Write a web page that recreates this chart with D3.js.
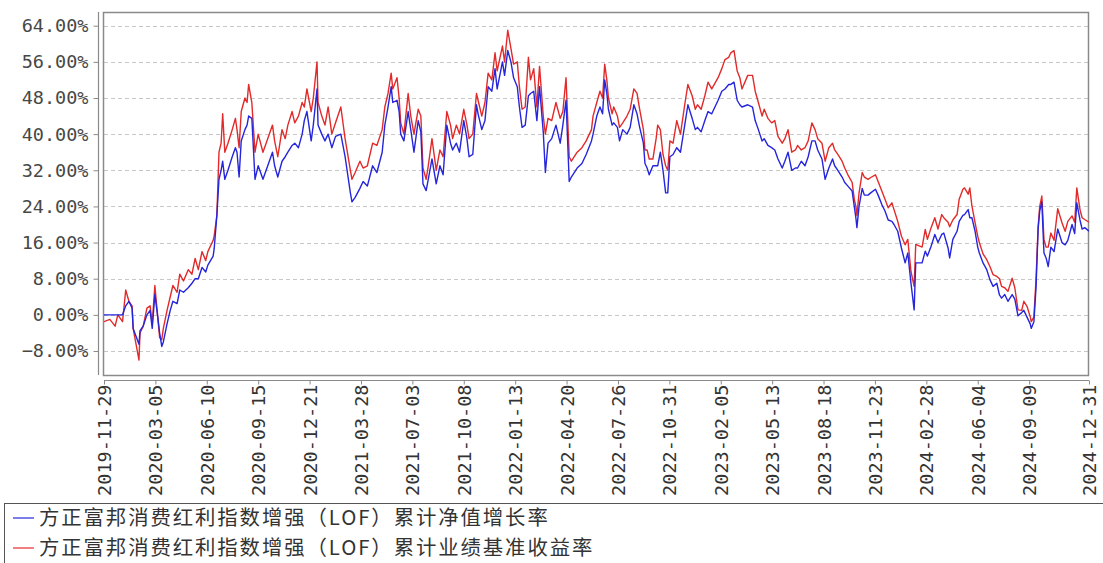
<!DOCTYPE html>
<html>
<head>
<meta charset="utf-8">
<script src="https://cdn.jsdelivr.net/npm/d3@7/dist/d3.min.js"></script>
<style>
  html, body { margin: 0; padding: 0; background: #fff; }
  svg { display: block; }
</style>
</head>
<body>
<svg id="chart" width="1103" height="563"></svg>
<script>
// ---------------- DATA ----------------
const dates = [
"2019-11-29","2019-12-10","2019-12-20","2019-12-25","2020-01-03","2020-01-09","2020-01-15","2020-01-21","2020-01-23","2020-02-03",
"2020-02-05","2020-02-11","2020-02-18","2020-02-24","2020-02-28","2020-03-04","2020-03-09","2020-03-13","2020-03-17","2020-03-20",
"2020-03-27","2020-04-02","2020-04-07","2020-04-15","2020-04-20","2020-04-27","2020-05-06","2020-05-13","2020-05-19","2020-05-25",
"2020-06-01","2020-06-08","2020-06-12","2020-06-22","2020-06-24","2020-06-29","2020-07-03","2020-07-07","2020-07-10","2020-07-14",
"2020-07-20","2020-07-28","2020-08-03","2020-08-06","2020-08-10","2020-08-14","2020-08-21","2020-08-25","2020-08-28","2020-09-03",
"2020-09-09","2020-09-15","2020-09-24","2020-09-30","2020-10-12","2020-10-16","2020-10-22","2020-10-30","2020-11-05","2020-11-10",
"2020-11-18","2020-11-23","2020-11-30","2020-12-07","2020-12-11","2020-12-16","2020-12-24","2020-12-28","2021-01-04","2021-01-06",
"2021-01-13","2021-01-19","2021-01-25","2021-02-01","2021-02-08","2021-02-18","2021-02-26","2021-03-08","2021-03-11","2021-03-17",
"2021-03-26","2021-04-01","2021-04-09","2021-04-19","2021-04-27","2021-05-07","2021-05-12","2021-05-18","2021-05-24","2021-05-27",
"2021-06-04","2021-06-08","2021-06-11","2021-06-17","2021-06-25","2021-06-30","2021-07-06","2021-07-14","2021-07-19","2021-07-23",
"2021-07-29","2021-08-02","2021-08-09","2021-08-17","2021-08-24","2021-08-30","2021-09-06","2021-09-13","2021-09-17","2021-09-24",
"2021-09-30","2021-10-08","2021-10-14","2021-10-18","2021-10-25","2021-11-01","2021-11-04","2021-11-11","2021-11-17","2021-11-23",
"2021-11-30","2021-12-06","2021-12-10","2021-12-20","2021-12-24","2021-12-30","2022-01-05","2022-01-10","2022-01-17","2022-01-21",
"2022-01-26","2022-02-01","2022-02-07","2022-02-11","2022-02-17","2022-02-23","2022-02-28","2022-03-07","2022-03-11","2022-03-16",
"2022-03-23","2022-03-31","2022-04-08","2022-04-13","2022-04-19","2022-04-25","2022-04-29","2022-05-10","2022-05-19","2022-05-27",
"2022-06-06","2022-06-09","2022-06-16","2022-06-22","2022-06-27","2022-07-01","2022-07-05","2022-07-08","2022-07-15","2022-07-18",
"2022-07-25","2022-07-29","2022-08-04","2022-08-12","2022-08-18","2022-08-25","2022-08-31","2022-09-05","2022-09-12","2022-09-15",
"2022-09-19","2022-09-23","2022-09-30","2022-10-06","2022-10-09","2022-10-14","2022-10-19","2022-10-24","2022-10-28","2022-11-01",
"2022-11-07","2022-11-14","2022-11-21","2022-11-29","2022-12-05","2022-12-13","2022-12-19","2022-12-23","2022-12-30","2023-01-06",
"2023-01-12","2023-01-19","2023-01-31","2023-02-07","2023-02-13","2023-02-20","2023-02-24","2023-03-02","2023-03-08","2023-03-13",
"2023-03-17","2023-03-28","2023-04-06","2023-04-11","2023-04-17","2023-04-24","2023-04-28","2023-05-05","2023-05-12","2023-05-18",
"2023-05-24","2023-06-01","2023-06-06","2023-06-12","2023-06-19","2023-06-26","2023-06-30","2023-07-07","2023-07-14","2023-07-20",
"2023-07-27","2023-08-02","2023-08-07","2023-08-15","2023-08-21","2023-08-28","2023-09-04","2023-09-08","2023-09-14","2023-09-22",
"2023-09-27","2023-10-03","2023-10-11","2023-10-15","2023-10-18","2023-10-20","2023-10-24","2023-10-30","2023-11-03","2023-11-10",
"2023-11-15","2023-11-24","2023-11-29","2023-12-06","2023-12-12","2023-12-18","2023-12-25","2023-12-29","2024-01-05","2024-01-12",
"2024-01-19","2024-01-24","2024-01-30","2024-02-05","2024-02-08","2024-02-20","2024-02-26","2024-03-01","2024-03-08","2024-03-15",
"2024-03-21","2024-03-28","2024-04-01","2024-04-09","2024-04-12","2024-04-18","2024-04-26","2024-04-30","2024-05-07","2024-05-10",
"2024-05-17","2024-05-20","2024-05-24","2024-05-30","2024-06-04","2024-06-07","2024-06-14","2024-06-21","2024-06-27","2024-07-03",
"2024-07-10","2024-07-15","2024-07-19","2024-07-25","2024-07-31","2024-08-08","2024-08-13","2024-08-19","2024-08-26","2024-08-30",
"2024-09-05","2024-09-11","2024-09-13","2024-09-18","2024-09-22","2024-09-26","2024-09-29","2024-10-03","2024-10-07","2024-10-11",
"2024-10-15","2024-10-20","2024-10-26","2024-11-02","2024-11-10","2024-11-16","2024-11-21","2024-11-29","2024-12-04","2024-12-08",
"2024-12-14","2024-12-18","2024-12-23","2024-12-31"
];

// 累计净值增长率 (%), blue
const navGrowth = [
0,0,0,0,0,2,3,1.5,-3,-6.5,
-3.5,-2.5,0,1,-3,4.5,0,-4,-7,-6,
-2,1,3,2.5,5.5,5,6,7,8,8,
10.5,9.5,11,13,14.7,22,30,32,34,30,
32,35,37,36,30.5,38.5,41,42,44,43.5,
30,33,30,32,36,33,30.5,34,35,36,
37.5,38,37,40,43,45,38.5,42,50,42,
40,38.5,40,37,39.5,40,35,27,25,26,
28,29.5,28.5,33,31.5,36,42,46,50.5,47,
47.5,45,40,38.5,45,41,36,43,40.5,29,
27.5,30,34.5,29,33,31,42,38,36.5,38,
36,43,39,35,35.5,46.5,44.5,41,43,50.5,
49.5,54.5,50,56,53,58.5,56,52.5,50.5,46,
41.5,42,48.5,49,49.5,43,50.5,40.5,31.5,38,
39,42,38,42,47.5,29.5,30.5,32.5,33.5,35.5,
38.5,40,44,46,44.5,52,49,45.5,42,42.5,
41.5,38.5,41,40,41.5,46.5,44.5,41.5,38,33.5,
32.5,31,33,33,33,36,32,27,27,35,
35.5,37,36,42,46.5,43.5,41,41.5,40.5,43,
45,44.5,47.5,49.5,50,51,51,51.5,47.5,46.5,
46,46.5,46,43,41,38.5,39,37.5,37,36.5,
34.5,32.5,34,36,32,32.5,32.5,34,33,35,
38.5,38.5,36.5,34.5,30,32.5,34.5,33,32,30.5,
29.3,28.5,27.4,24,21.5,19.3,24,28,26.5,26.5,
27,27.8,26.5,24.4,23,21,20.7,20,18.5,14.8,
11.5,13.7,7,1.1,11.5,11.5,14.1,13,15.2,17.8,
16,17.8,18.1,14.8,12.6,16.7,18.5,20.7,22,22.2,
23.3,21.5,21.5,18.5,15,13.7,11.5,10,7.8,6.3,
7,4.4,3.7,4.5,3,4.5,3.5,-0.2,0.5,1,
-0.5,-2,-3,-1.5,6,19,23,25,13.7,12.6,
10.7,15,14,19,16,15.5,16.5,20,18,24.8,
21,19,19.3,18.5
];

// 累计业绩基准收益率 (%), red
const benchReturn = [
-1.5,-1,-2.5,0,-1.5,5.5,3,2,-3,-10,
-4,-2.5,1.5,2,-2,6.5,0,-5,-5.5,-3,
1,4,6.5,5,9,7.5,10,9,12.5,10,
14,12,14,16.5,17.5,22,36,38,44.5,36,
38,41,43.5,41,37,45,48,47,51,47,
36,40,36,38,42,38.5,35,41,39,42,
45,42.5,44,47,46,50,45,48,56,47,
44,42,46,40,42.5,46,39,32,30,31.5,
34,32.5,33,38,37.5,41,46,49,53.5,50,
52.5,48,42.5,40,49,44,40,45.5,44,32.5,
30,33,39,32,36.5,35,45,42,39,42,
40,45.5,42,39,40,49,47.5,44,47,53.5,
52,58,54,59.5,56,63,59,55.5,56,50.5,
45.5,46,57,52,54.5,46,55,44,40,43.5,
43,47,43.5,45,52.5,35,34,36,37,38.5,
41,44,47,49.5,48,55.5,52,48,44.5,46,
44,41.5,42.5,44,45.5,50,49,45.5,41,36.5,
36.5,34.5,34.5,39,42,41,35.5,33,32,38.5,
38,43,40,46.5,51,48.5,45.5,46.5,45.5,48.5,
51.5,50,52.5,54.5,56.5,57,58,58.5,54,52.5,
50,53,53,49.5,47,44,45.5,43.5,42.5,43,
39.5,38,39,41,36,36.5,37.5,36.5,37,38.5,
42.5,41,39,38,34,37,38,36.5,35.5,34,
32.5,31,29.3,25.6,24,22,27,31.5,30.5,30,
30.4,31,29.5,27.4,25.6,23.7,24.8,23.3,20.7,17.4,
15.5,16.7,9.6,6.3,15.6,15,18.9,16.7,19.3,21.5,
19,22.2,21.5,20.5,19.5,21,22.2,25.6,27.8,28.1,
26.7,28.1,24.1,20.4,17.4,16,13.5,12.2,10.7,8.9,
8.5,8,6.3,6,5.2,8.1,6,1.1,1,3,
1.9,-0.4,-1.5,-0.5,7.8,19.6,24,26.3,16.7,15,
15,18.1,16.5,23.5,20.4,18.5,20.7,21.9,20.5,28.1,
23.3,21.5,21.1,20.5
];

const yTickValues = [-8, 0, 8, 16, 24, 32, 40, 48, 56, 64];
const xTickLabels = [
"2019-11-29","2020-03-05","2020-06-10","2020-09-15","2020-12-21","2021-03-28","2021-07-03",
"2021-10-08","2022-01-13","2022-04-20","2022-07-26","2022-10-31","2023-02-05","2023-05-13",
"2023-08-18","2023-11-23","2024-02-28","2024-06-04","2024-09-09","2024-12-31"
];
const seriesNames = [
"方正富邦消费红利指数增强（LOF）累计净值增长率",
"方正富邦消费红利指数增强（LOF）累计业绩基准收益率"
];
const seriesColors = ["#2525dc", "#e22a2a"];

// ---------------- CHART ----------------
const parse = d3.utcParse("%Y-%m-%d");
const svg = d3.select("#chart");
svg.append("rect").attr("width", 1103).attr("height", 563).attr("fill", "#fff");

const plot = { left: 104, right: 1089, top: 12, bottom: 375 };

const x = d3.scaleUtc()
  .domain([parse(xTickLabels[0]), parse(xTickLabels[xTickLabels.length - 1])])
  .range([plot.left, plot.right]);

const y = d3.scaleLinear().domain([-8, 64]).range([351, 25.7]);

// gridlines
svg.append("g").selectAll("line").data(yTickValues).join("line")
  .attr("x1", plot.left).attr("x2", plot.right)
  .attr("y1", d => Math.round(y(d)) + 0.5).attr("y2", d => Math.round(y(d)) + 0.5)
  .attr("stroke", "#c8c8c8").attr("stroke-width", 1).attr("stroke-dasharray", "4,3");

// frame
svg.append("rect")
  .attr("x", plot.left - 0.5).attr("y", plot.top + 0.5)
  .attr("width", plot.right - plot.left).attr("height", plot.bottom - plot.top)
  .attr("fill", "none").attr("stroke", "#8a8a8a").attr("stroke-width", 1.5);

// y axis (offset to the left)
const yAxis = d3.axisLeft(y).tickValues(yTickValues).tickSize(5).tickPadding(5)
  .tickFormat(d => d3.format(".2f")(d) + "%");
const gy = svg.append("g").attr("transform", "translate(98.5,0)").call(yAxis);
gy.select(".domain").attr("d", `M0,${plot.top}V${plot.bottom}`).attr("stroke", "#8a8a8a").attr("stroke-width", 1.2);
gy.selectAll(".tick line").attr("stroke", "#8a8a8a");
gy.selectAll(".tick text")
  .attr("font-family", "'DejaVu Sans Mono', monospace").attr("font-size", 18.5)
  .attr("fill", "#474747");

// x axis (offset below)
const xAxis = d3.axisBottom(x).tickValues(xTickLabels.map(parse)).tickSize(4)
  .tickFormat(d3.utcFormat("%Y-%m-%d"));
const gx = svg.append("g").attr("transform", "translate(0,380.5)").call(xAxis);
gx.select(".domain").attr("d", `M${plot.left},0H${plot.right}`).attr("stroke", "#8a8a8a").attr("stroke-width", 1.2);
gx.selectAll(".tick line").attr("stroke", "#8a8a8a");
gx.selectAll(".tick text")
  .attr("font-family", "'DejaVu Sans Mono', monospace").attr("font-size", 18.5)
  .attr("fill", "#333")
  .attr("text-anchor", "end")
  .attr("transform", "translate(0,4) rotate(-90)")
  .attr("x", 0).attr("y", 0).attr("dy", "0.35em");

// clip
svg.append("clipPath").attr("id", "clip").append("rect")
  .attr("x", plot.left).attr("y", plot.top).attr("width", plot.right - plot.left).attr("height", plot.bottom - plot.top);

const series = [
  { name: seriesNames[0], color: seriesColors[0], values: navGrowth },
  { name: seriesNames[1], color: seriesColors[1], values: benchReturn }
];
const line = d3.line().x(d => x(d.date)).y(d => y(d.value));
const lineG = svg.append("g").attr("clip-path", "url(#clip)");
[series[1], series[0]].forEach(s => {
  const pts = dates.map((dt, i) => ({ date: parse(dt), value: s.values[i] }));
  lineG.append("path").datum(pts)
    .attr("d", line).attr("fill", "none")
    .attr("stroke", s.color).attr("stroke-width", 1.4).attr("stroke-linejoin", "round");
});

// legend
const lg = svg.append("g");
lg.append("rect").attr("x", 4.5).attr("y", 503.5).attr("width", 1120).attr("height", 80)
  .attr("fill", "#fff").attr("stroke", "#555").attr("stroke-width", 1);
series.forEach((s, i) => {
  const cy = 518 + i * 30;
  lg.append("line").attr("x1", 13).attr("x2", 34).attr("y1", cy).attr("y2", cy)
    .attr("stroke", s.color).attr("stroke-width", 1.2);
  lg.append("text").attr("x", 39).attr("y", cy).attr("dy", "0.36em")
    .attr("font-family", "'Noto Sans CJK SC', sans-serif").attr("font-size", 20.4)
    .attr("letter-spacing", "1.9px")
    .attr("fill", "#333").text(s.name);
});
</script>
</body>
</html>
